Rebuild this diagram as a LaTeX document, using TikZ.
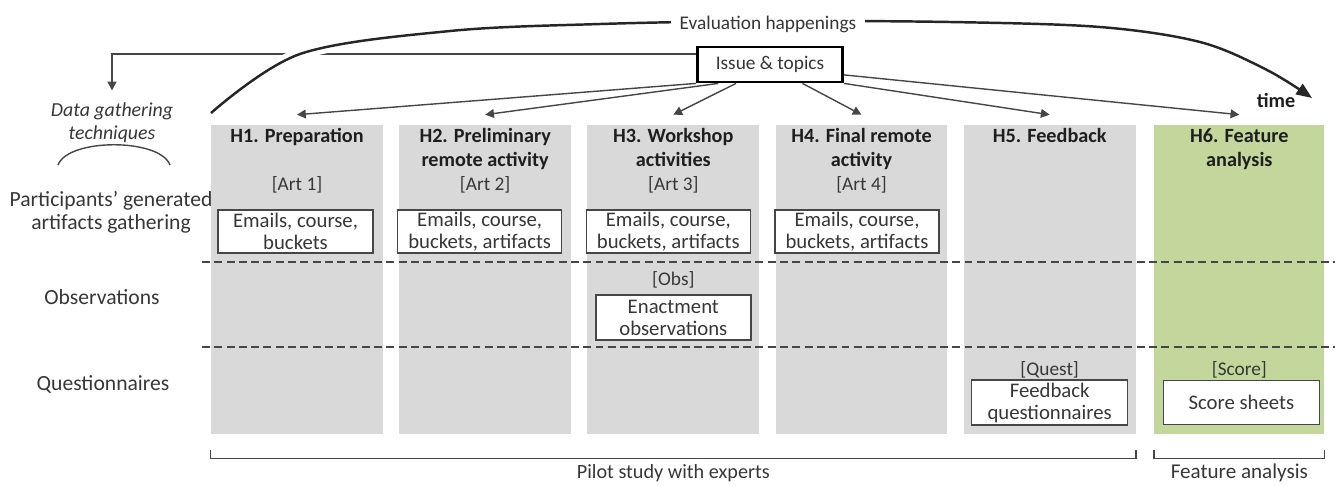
\documentclass[tikz,border=0pt]{standalone}
\usepackage{fontspec}
\setmainfont{Carlito}
\usepackage{tikz}
\usetikzlibrary{
    arrows.meta,
    positioning,
    calc
}
\definecolor{PhaseGray}{RGB}{217,217,217}
\definecolor{PhaseGreen}{RGB}{195,214,155}
\definecolor{TextInk}{RGB}{55,55,55}
\definecolor{TitleInk}{RGB}{30,30,30}
\definecolor{LineInk}{RGB}{70,70,70}

\begin{document}
\begin{tikzpicture}[
    x=0.02cm,
    y=-0.02cm,
    font=\fontsize{11}{13}\selectfont,
%
    phase/.style={
        fill=PhaseGray,
        minimum width=3.44cm,
        minimum height=6.18cm,
        inner sep=0pt
    },
%
    phasetitle/.style={
        font=\fontsize{11.5}{13.5}\selectfont\bfseries,
        text=TitleInk,
        align=center,
        inner sep=2pt
    },
%
    rowlabel/.style={
        text=TextInk,
        align=center,
        inner sep=1pt,
        font=\fontsize{12.3}{13.2}\selectfont
    },
%
    tag/.style={
        text=TextInk,
        inner sep=1pt
    },
%
    itembox/.style={
        draw=LineInk,
        fill=white,
        line width=0.8pt,
        text=TextInk,
        align=center,
        inner sep=1pt,
        minimum width=3.28cm,
        minimum height=0.86cm,
        font=\fontsize{11.8}{12.5}\selectfont
    },
%
    issuebox/.style={
        draw=black,
        fill=white,
        line width=1.6pt,
        text=TextInk,
        minimum width=2.9cm,
        minimum height=0.7cm
    },
%
    arrow/.style={
        -{Triangle[length=5pt,width=5pt]},
        line width=0.8pt,
        color=LineInk
    },
%
    timearrow/.style={
        -{Triangle[length=9pt,width=7pt]},
        line width=1.4pt,
        color=black!85,
        preaction={draw=white, line width=7pt, arrows=-}
    },
%
    rowsep/.style={
        dash pattern=on 4.5pt off 2.5pt,
        line width=0.9pt,
        color=LineInk
    },
%
    bracket/.style={
        line width=0.8pt,
        color=LineInk
    }
]
\useasboundingbox (0,0) rectangle (1335,485);
%
% Phase columns
%
\node[phase] (h1) at (297,279.5) {};
\node[phase, right=0.31cm of h1] (h2) {};
\node[phase, right=0.31cm of h2] (h3) {};
\node[phase, right=0.31cm of h3] (h4) {};
\node[phase, right=0.31cm of h4] (h5) {};
\node[
    phase,
    fill=PhaseGreen,
    minimum width=3.4cm,
    right=0.36cm of h5
] (h6) {};
%
% Row separators
%
\draw[rowsep] (202,262) -- (1335,262);
\draw[rowsep] (202,347) -- (1335,347);
%
% Phase titles
%
\node[phasetitle, below=0pt of h1.north] (h1title) {H1. Preparation};
\node[phasetitle, below=0pt of h2.north] (h2title) {
    H2. Preliminary\\
    remote activity
};
\node[phasetitle, below=0pt of h3.north] (h3title) {
    H3. Workshop\\
    activities
};
\node[phasetitle, below=0pt of h4.north] (h4title) {
    H4. Final remote\\
    activity
};
\node[phasetitle, below=0pt of h5.north] (h5title) {H5. Feedback};
\node[phasetitle, below=0pt of h6.north] (h6title) {
    H6. Feature\\
    analysis
};
%
% Row positions
%
\coordinate (tagrow) at (0,185);
\coordinate (boxrow) at (0,231.5);
\coordinate (obstagrow) at (0,280);
\coordinate (obsrow) at (0,317.5);
\coordinate (questtagrow) at (0,370);
\coordinate (questrow) at (0,402.5);
%
% Artifacts gathering
%
\node[tag] (art1) at (h1 |- tagrow) {[Art 1]};
\node[
    itembox,
    minimum width=3.1cm,
    xshift=-0.03cm
] (art1box) at (h1 |- boxrow) {
    Emails, course,\\
    buckets
};
%
\node[tag] (art2) at (h2 |- tagrow) {[Art 2]};
\node[itembox, xshift=-0.11cm] (art2box) at (h2 |- boxrow) {
    Emails, course,\\
    buckets, artifacts
};
%
\node[tag] (art3) at (h3 |- tagrow) {[Art 3]};
\node[itembox, xshift=-0.1cm] (art3box) at (h3 |- boxrow) {
    Emails, course,\\
    buckets, artifacts
};
%
\node[tag] (art4) at (h4 |- tagrow) {[Art 4]};
\node[itembox, xshift=-0.09cm] (art4box) at (h4 |- boxrow) {
    Emails, course,\\
    buckets, artifacts
};
%
% Observations
%
\node[tag] (obs) at (h3 |- obstagrow) {[Obs]};
\node[
    itembox,
    minimum width=3.1cm,
    minimum height=0.9cm
] (obsbox) at (h3 |- obsrow) {
    Enactment\\
    observations
};
%
% Questionnaires
%
\node[tag] (quest) at (h5 |- questtagrow) {[Quest]};
\node[
    itembox,
    minimum width=3.12cm,
    minimum height=0.9cm
] (questbox) at (h5 |- questrow) {
    Feedback\\
    questionnaires
};
%
\node[tag] (score) at (h6 |- questtagrow) {[Score]};
\node[
    itembox,
    minimum width=3.12cm,
    minimum height=0.88cm,
    xshift=0.04cm
] (scorebox) at (h6 |- questrow) {Score sheets};
%
% Technique labels
%
\node[
    rowlabel,
    font=\fontsize{11.3}{13}\selectfont\itshape
] (dgt) at (112,123) {
    Data gathering\\
    techniques
};
\draw[bracket] (58,165) .. controls (68,138) and (160,138) .. (170,165);
%
\node[rowlabel] (partlabel) at (111,212) {
    Participants’ generated\\
    artifacts gathering
};
\node[rowlabel] (obslabel) at (102,297) {Observations};
\node[rowlabel] (questlabel) at (103,384) {Questionnaires};
%
% Issue & topics feed the phases
%
\node[issuebox] (issue) at (770,64.5) {Issue \& topics};
%
\draw[arrow] (issue.south west) -- ([yshift=0.2cm]h1.north);
\draw[arrow] ($(issue.south west)!0.15!(issue.south east)$) -- ([yshift=0.2cm]h2.north);
\draw[arrow] ($(issue.south west)!0.27!(issue.south east)$) -- ([yshift=0.2cm]h3.north);
\draw[arrow] ($(issue.south west)!0.72!(issue.south east)$) -- ([yshift=0.2cm]h4.north);
\draw[arrow] (issue.south east) -- ([yshift=0.2cm]h5.north);
\draw[arrow] (issue.-8) -- ([yshift=0.2cm]h6.north);
%
\draw[arrow, shorten >=0.21cm] (issue.172) -| (dgt.north);
%
% Evaluation happenings over time
%
\coordinate (evstart) at (211,113);
\coordinate (evend) at (1312,98);
\draw[timearrow]
    plot[smooth, tension=0.55] coordinates {
        (evstart) (300,54) (450,31) (600,24) (765,21)
        (950,22) (1100,27) (1200,42) (1267,70) (evend)
    };
\node[
    fill=white,
    text=TextInk,
    inner xsep=5pt,
    inner ysep=1pt
] (evlabel) at (768,24) {Evaluation happenings};
\node[
    font=\fontsize{11.5}{12}\selectfont\bfseries,
    text=TitleInk,
    inner sep=1pt
] (timelabel) at (1276,100) {time};
%
% Study brackets
%
\draw[bracket]
    ([yshift=-0.32cm]h1.south west)
    --
    ([yshift=-0.48cm]h1.south west)
    --
    ([yshift=-0.48cm]h5.south east)
    --
    ([yshift=-0.32cm]h5.south east);
\draw[bracket]
    ([yshift=-0.32cm]h6.south west)
    --
    ([yshift=-0.48cm]h6.south west)
    --
    ([yshift=-0.48cm]h6.south east)
    --
    ([yshift=-0.32cm]h6.south east);
%
\coordinate (pilotmid) at ($(h1.south west)!0.5!(h5.south east)$);
\node[
    rowlabel,
    font=\fontsize{11.5}{13}\selectfont,
    below=0.56cm of pilotmid
] (pilottext) {Pilot study with experts};
\node[
    rowlabel,
    font=\fontsize{12}{13}\selectfont,
    below=0.54cm of h6.south
] (feattext) {Feature analysis};
%
\end{tikzpicture}
\end{document}
